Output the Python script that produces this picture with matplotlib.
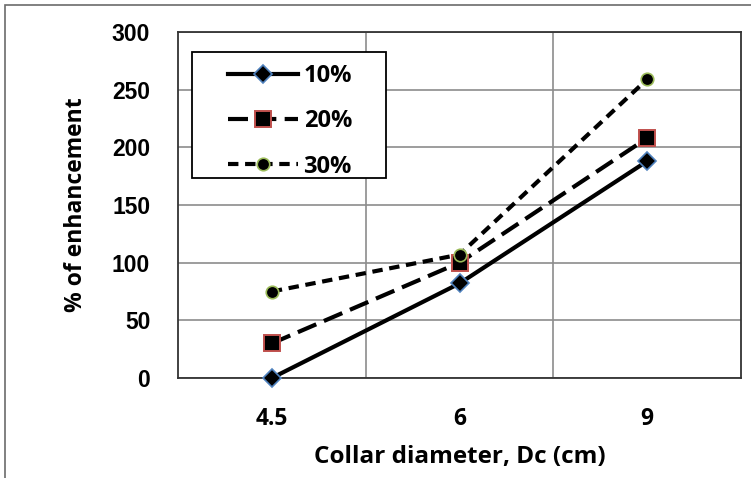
import matplotlib.pyplot as plt
from matplotlib.patches import Rectangle

# data
diameters = ['4.5', '6', '9']
series_names = ['10%', '20%', '30%']
enh_10 = [0, 82, 188]
enh_20 = [30, 100, 208]
enh_30 = [75, 107, 259]

FONT = 'Open Sans'

fig = plt.figure(figsize=(7.51, 4.78), dpi=100)
W, H = 751, 478

# outer chart frame (runs off right and bottom edge)
fig.patches.append(Rectangle((5 / W, -0.2), 2.0, 1.2 - 5 / H, transform=fig.transFigure,
                             fill=False, edgecolor='#6b6b6b', linewidth=1.2))

ax = fig.add_axes([178 / W, 100 / H, 563 / W, 346 / H])

lw = 3.0
x = list(range(len(diameters)))
ax.plot(x, enh_10, color='black', linewidth=lw, marker='D', markersize=9,
        markerfacecolor='black', markeredgecolor='#4f81bd', markeredgewidth=1.2,
        label=series_names[0], zorder=3, clip_on=False)
ax.plot(x, enh_20, color='black', linewidth=lw, dashes=(4.8, 2.0), marker='s', markersize=11.5,
        markerfacecolor='black', markeredgecolor='#c0504d', markeredgewidth=1.4,
        label=series_names[1], zorder=3, clip_on=False)
ax.plot(x, enh_30, color='black', linewidth=lw, dashes=(2.5, 1.6), marker='o', markersize=9,
        markerfacecolor='black', markeredgecolor='#9bbb59', markeredgewidth=1.2,
        label=series_names[2], zorder=3, clip_on=False)

ax.set_xlim(-0.5, 2.5)
ax.set_ylim(0, 300)
ax.set_yticks(range(0, 301, 50))
ax.set_xticks(x)
ax.set_xticks([0.5, 1.5], minor=True)
ax.set_xticklabels(diameters, fontfamily=FONT, fontweight='bold', fontsize=16.5)
for lab in ax.get_yticklabels():
    lab.set_fontfamily('Liberation Sans')
    lab.set_fontweight('bold')
    lab.set_fontsize(16.5)

ax.tick_params(axis='both', which='both', length=0)
ax.tick_params(axis='x', pad=21)
ax.tick_params(axis='y', pad=20)
ax.grid(True, axis='y', color='#8c8c8c', linewidth=1.2)
ax.grid(True, axis='x', which='minor', color='#8c8c8c', linewidth=1.2)
ax.set_axisbelow(True)
for s in ax.spines.values():
    s.set_color('#333333')
    s.set_linewidth(1.3)

ax.set_xlabel('Collar diameter, Dc (cm)', fontfamily=FONT, fontweight='bold', fontsize=17.5, labelpad=10)
ax.set_ylabel('% of enhancement', fontfamily=FONT, fontweight='bold', fontsize=16.5, labelpad=17)

# legend box drawn separately so its padding can match the original
ax.add_patch(Rectangle((14 / 563, 200 / 346), 194 / 563, 126 / 346, transform=ax.transAxes,
                       facecolor='white', edgecolor='black', linewidth=1.3, zorder=4))
leg = ax.legend(loc='upper left', bbox_to_anchor=(50 / 563, 1 - 32 / 346), frameon=False,
                handlelength=2.95, borderpad=0, labelspacing=0.9, handletextpad=0.25,
                borderaxespad=0, prop={'family': FONT, 'weight': 'bold', 'size': 17})
leg.set_zorder(5)

fig.savefig('out.png', dpi=100)
